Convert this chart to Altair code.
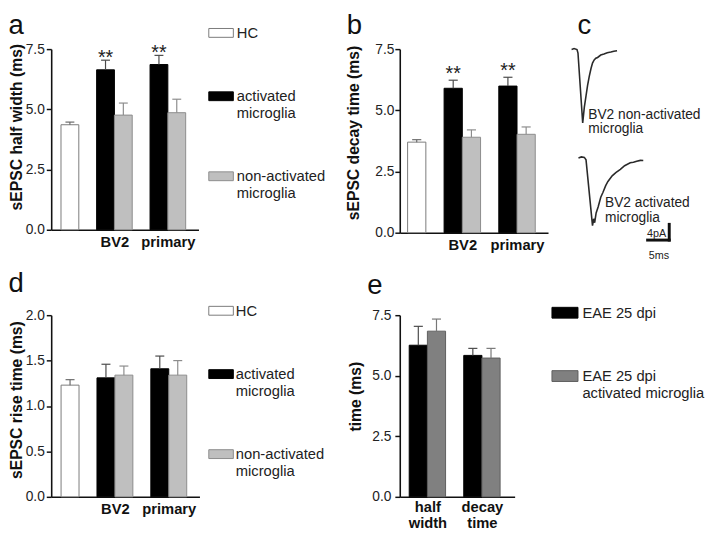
import textwrap
import altair as alt
import pandas as pd

FONT = "Liberation Sans"
INK = "#111111"
TEXT = "#222222"

# ---------------- data ----------------
conditions = ["HC", "activated microglia", "non-activated microglia"]
groups = ["BV2", "primary"]

# a) sEPSC half width (ms)
a_hc = [4.36]
a_hc_err = [0.11]
a_act = [6.64, 6.86]
a_act_err = [0.40, 0.38]
a_non = [4.76, 4.86]
a_non_err = [0.50, 0.56]
a_sig = ["**", "**"]

# b) sEPSC decay time (ms)
b_hc = [3.70]
b_hc_err = [0.10]
b_act = [5.90, 5.99]
b_act_err = [0.33, 0.36]
b_non = [3.90, 4.02]
b_non_err = [0.30, 0.30]
b_sig = ["**", "**"]

# d) sEPSC rise time (ms)
d_hc = [1.23]
d_hc_err = [0.06]
d_act = [1.31, 1.41]
d_act_err = [0.15, 0.14]
d_non = [1.34, 1.34]
d_non_err = [0.10, 0.16]
d_sig = ["", ""]

# e) time (ms)
e_conditions = ["EAE 25 dpi", "EAE 25 dpi activated microglia"]
e_measures = ["half width", "decay time"]
e_eae = [6.26, 5.84]
e_eae_err = [0.78, 0.29]
e_act = [6.84, 5.73]
e_act_err = [0.50, 0.40]

# c) example sEPSC traces, time (ms) and current (pA)
trace_names = ["BV2 non-activated microglia", "BV2 activated microglia"]
non_t = [0.0, 0.57, 1.25, 1.48, 2.57, 2.95, 3.34, 3.70, 4.09, 4.48, 4.84, 5.23,
         5.61, 6.02, 6.75, 7.50, 8.25, 9.09, 9.77, 10.52]
non_i = [0.0, 0.2, -0.05, -0.93, -18.7, -14.7, -11.85, -9.18, -6.85, -4.93, -3.5,
         -2.68, -2.25, -2.05, -1.43, -1.18, -0.85, -0.68, -0.48, -0.35]
act_t = [0.0, 0.68, 1.36, 1.75, 3.25, 3.52, 3.75, 4.09, 4.55, 5.16, 5.68, 6.30,
         6.82, 7.80, 8.64, 9.70, 10.68, 11.98, 12.73, 13.48, 14.32, 15.0]
act_i = [0.0, 0.25, 0.13, -0.5, -17.25, -15.5, -16.5, -14.0, -12.5, -10.0, -8.75,
         -7.08, -6.0, -4.58, -3.75, -2.93, -2.0, -1.25, -1.13, -0.83, -0.63, -0.68]
scalebar_ms = 5
scalebar_pa = 4

# ---------------- styles ----------------
ad_fill = ["#ffffff", "#000000", "#bfbfbf"]
ad_stroke = ["#7a7a7a", "#000000", "#8c8c8c"]
ad_err = ["#6a6a6a", "#4a4a4a", "#8c8c8c"]
e_fill = ["#000000", "#808080"]
e_stroke = ["#000000", "#5e5e5e"]
e_err = ["#4a4a4a", "#777777"]
CAP = 0.25
LEG_LH = 17
LEG_GAP = 47.5


def finish(df):
    df["lo"] = df["slot"] - 0.5
    df["hi"] = df["slot"] + 0.5
    df["top"] = df["v"] + df["err"]
    df["cl"] = df["slot"] - CAP
    df["cr"] = df["slot"] + CAP
    return df


def grouped_df(hc, hc_err, act, act_err, non, non_err, sig):
    rows = [{"cond": conditions[0], "slot": 0.0, "v": hc[0], "err": hc_err[0],
             "sig": "", "fill": ad_fill[0], "stroke": ad_stroke[0], "ecol": ad_err[0]}]
    for gi in range(len(groups)):
        base = 2 + 3 * gi
        rows.append({"cond": conditions[1], "slot": base, "v": act[gi],
                     "err": act_err[gi], "sig": sig[gi],
                     "fill": ad_fill[1], "stroke": ad_stroke[1], "ecol": ad_err[1]})
        rows.append({"cond": conditions[2], "slot": base + 1, "v": non[gi],
                     "err": non_err[gi], "sig": "",
                     "fill": ad_fill[2], "stroke": ad_stroke[2], "ecol": ad_err[2]})
    return finish(pd.DataFrame(rows))


def e_df():
    rows = []
    for mi in range(len(e_measures)):
        base = 3 * mi
        rows.append({"cond": e_conditions[0], "slot": base, "v": e_eae[mi],
                     "err": e_eae_err[mi], "sig": "",
                     "fill": e_fill[0], "stroke": e_stroke[0], "ecol": e_err[0]})
        rows.append({"cond": e_conditions[1], "slot": base + 1, "v": e_act[mi],
                     "err": e_act_err[mi], "sig": "",
                     "fill": e_fill[1], "stroke": e_stroke[1], "ecol": e_err[1]})
    return finish(pd.DataFrame(rows))


def label_expr(positions, names, multiline):
    expr = "''"
    for p, n in reversed(list(zip(positions, names))):
        if multiline:
            lab = "[" + ",".join("'%s'" % w for w in n.split(" ")) + "]"
        else:
            lab = "'%s'" % n
        expr = "abs(datum.value - %s) < 0.01 ? %s : %s" % (p, lab, expr)
    return expr


def letter_layer(letter, x, y):
    return alt.Chart(alt.Data(values=[{"letter": letter}])).mark_text(
        font=FONT, fontSize=28, align="left", baseline="alphabetic", color=INK
    ).encode(text="letter:N", x=alt.value(x), y=alt.value(y))


def bar_panel(df, xdom, ydom, yvals, ytitle, w, h,
              lab_pos, lab_names, multiline, title_x, title_y, label_pad,
              letter, lx, ly, star_dy):
    xs = alt.Scale(domain=xdom, nice=False, zero=False)
    ys = alt.Scale(domain=ydom, nice=False, zero=True)
    xax = alt.Axis(values=lab_pos, labelExpr=label_expr(lab_pos, lab_names, multiline),
                   title=None, ticks=False, labelPadding=3 if multiline else 5,
                   labelLineHeight=16)
    yax = alt.Axis(values=yvals, format=".1f", title=ytitle, titleX=title_x,
                   titleY=title_y, titleBaseline="bottom", labelPadding=label_pad)
    base = alt.Chart(df)
    bars = base.mark_rect(strokeWidth=1).encode(
        x=alt.X("lo:Q", scale=xs, axis=xax),
        x2="hi:Q",
        y=alt.Y("v:Q", scale=ys, axis=yax),
        y2=alt.datum(0),
        fill=alt.Fill("fill:N", scale=None),
        stroke=alt.Stroke("stroke:N", scale=None),
    )
    whisk = base.mark_rule(strokeWidth=1.2).encode(
        x=alt.X("slot:Q", scale=xs, axis=xax),
        y=alt.Y("v:Q", scale=ys, axis=yax),
        y2="top:Q",
        color=alt.Color("ecol:N", scale=None),
    )
    caps = base.mark_rule(strokeWidth=1.2).encode(
        x=alt.X("cl:Q", scale=xs, axis=xax),
        x2="cr:Q",
        y=alt.Y("top:Q", scale=ys, axis=yax),
        color=alt.Color("ecol:N", scale=None),
    )
    stars = base.transform_filter("datum.sig != ''").mark_text(
        font=FONT, fontSize=20, color=TEXT, baseline="alphabetic", dy=star_dy
    ).encode(
        x=alt.X("slot:Q", scale=xs, axis=xax),
        y=alt.Y("top:Q", scale=ys, axis=yax),
        text="sig:N",
    )
    return alt.layer(bars, whisk, caps, stars, letter_layer(letter, lx, ly)).properties(
        width=w, height=h)


def legend_panel(labels, fills, strokes, w, h, y0, sw_x, sw_w, sw_h, text_x, wrap):
    rows = []
    yc = y0
    for lab, f, s in zip(labels, fills, strokes):
        txt = textwrap.fill(lab, width=wrap, break_on_hyphens=False)
        rows.append({"label": lab, "text": txt, "fill": f, "stroke": s, "yc": yc})
        yc += (txt.count("\n") + 1) * LEG_LH + LEG_GAP
    df = pd.DataFrame(rows)
    df["ylo"] = df["yc"] - sw_h / 2
    df["yhi"] = df["yc"] + sw_h / 2
    df["ty"] = df["yc"] - 7
    ys = alt.Scale(domain=[0, h], range=[0, h], nice=False, zero=False)
    sw = alt.Chart(df).mark_rect(strokeWidth=1).encode(
        x=alt.value(sw_x), x2=alt.value(sw_x + sw_w),
        y=alt.Y("ylo:Q", scale=ys, axis=None), y2="yhi:Q",
        fill=alt.Fill("fill:N", scale=None),
        stroke=alt.Stroke("stroke:N", scale=None),
    )
    tx = alt.Chart(df).mark_text(
        font=FONT, fontSize=15, color=TEXT, align="left", baseline="top",
        lineBreak="\n", lineHeight=LEG_LH,
    ).encode(x=alt.value(text_x), y=alt.Y("ty:Q", scale=ys, axis=None), text="text:N")
    return alt.layer(sw, tx).properties(width=w, height=h)


def trace_panel():
    C_W, C_H = 130, 184
    PX_MS, PX_PA = 4.4, 4.0
    X0, Y0 = 17.0, 0.3
    xs = alt.Scale(domain=[-X0 / PX_MS, (C_W - X0) / PX_MS], nice=False, zero=False)
    ys = alt.Scale(domain=[(Y0 - C_H) / PX_PA, Y0 / PX_PA], nice=False, zero=False)
    shifts = [(0.0, 0.0), (7.0 / PX_MS, -110.5 / PX_PA)]
    rows = []
    for name, ts, cs, (dt, di) in zip(trace_names, [non_t, act_t], [non_i, act_i], shifts):
        for k, (t, c) in enumerate(zip(ts, cs)):
            rows.append({"trace": name, "k": k, "t": t + dt, "i": c + di})
    tdf = pd.DataFrame(rows)
    lines = alt.Chart(tdf).mark_line(color="#2a2a2a", strokeWidth=1.6).encode(
        x=alt.X("t:Q", scale=xs, axis=None),
        y=alt.Y("i:Q", scale=ys, axis=None),
        detail="trace:N", order="k:Q",
    )
    lab_pos = [(3.86, -14.9), (7.73, -37.4)]
    ldf = pd.DataFrame({
        "text": [textwrap.fill(n, width=17) for n in trace_names],
        "t": [p[0] for p in lab_pos], "i": [p[1] for p in lab_pos]})
    labels = alt.Chart(ldf).mark_text(
        font=FONT, fontSize=14, color=TEXT, align="left", baseline="top",
        lineBreak="\n", lineHeight=15,
    ).encode(x=alt.X("t:Q", scale=xs, axis=None), y=alt.Y("i:Q", scale=ys, axis=None),
             text="text:N")
    sb_t, sb_i = 22.6, -48.55
    sdf = pd.DataFrame({
        "t": [sb_t - scalebar_ms, sb_t], "t2": [sb_t, sb_t],
        "i": [sb_i, sb_i], "i2": [sb_i, sb_i + scalebar_pa]})
    bar = alt.Chart(sdf).mark_rule(color=INK, strokeWidth=3, strokeCap="square").encode(
        x=alt.X("t:Q", scale=xs, axis=None), x2="t2:Q",
        y=alt.Y("i:Q", scale=ys, axis=None), y2="i2:Q")
    stdf = pd.DataFrame({
        "text": ["%dpA" % scalebar_pa, "%dms" % scalebar_ms],
        "t": [sb_t - 2.95, sb_t - 2.38], "i": [sb_i + 1.62, sb_i - 4.13]})
    sbt = alt.Chart(stdf).mark_text(font=FONT, fontSize=11, color=TEXT,
                                   align="center", baseline="middle").encode(
        x=alt.X("t:Q", scale=xs, axis=None), y=alt.Y("i:Q", scale=ys, axis=None),
        text="text:N")
    return alt.layer(lines, labels, bar, sbt, letter_layer("c", 23, -15)).properties(
        width=C_W, height=C_H)


panel_a = bar_panel(grouped_df(a_hc, a_hc_err, a_act, a_act_err, a_non, a_non_err, a_sig),
                    [-1.05, 7.22], [0, 7.5], [0, 2.5, 5, 7.5], "sEPSC half width (ms)",
                    150, 184, [2.5, 5.5], groups, False, -27, 79, 2, "a", -43.5, -15, 4)
panel_b = bar_panel(grouped_df(b_hc, b_hc_err, b_act, b_act_err, b_non, b_non_err, b_sig),
                    [-0.93, 7.20], [0, 7.5], [0, 2.5, 5, 7.5], "sEPSC decay time (ms)",
                    151, 187, [2.5, 5.5], groups, False, -39, 85, 1, "b", -54, -15, 0)
panel_d = bar_panel(grouped_df(d_hc, d_hc_err, d_act, d_act_err, d_non, d_non_err, d_sig),
                    [-1.05, 7.21], [0, 2.0], [0, 0.5, 1.0, 1.5, 2.0], "sEPSC rise time (ms)",
                    151, 185, [2.5, 5.5], groups, False, -27, 86, 2, "d", -43.5, -24, 0)
panel_e = bar_panel(e_df(), [-1.02, 5.30], [0, 7.5], [0, 2.5, 5, 7.5], "time (ms)",
                    117, 185, [0.5, 3.5], e_measures, True, -37, 82.5, 4, "e", -33, -22, 0)

legend_1 = legend_panel(conditions, ad_fill, ad_stroke, 186.5, 184, -16.5, 2.5, 25, 9, 31, 14)
legend_2 = legend_panel(conditions, ad_fill, ad_stroke, 189.5, 185, -4.5, 2.5, 25, 9, 30, 14)
legend_e = legend_panel(e_conditions, e_fill, e_stroke, 160, 185, -2.5, -3, 26.5, 11, 28, 19)
panel_c = trace_panel()

chart = alt.concat(
    panel_a, legend_1, panel_b, panel_c,
    panel_d, legend_2, panel_e, legend_e,
    columns=4,
    spacing={"row": 84, "column": 7},
    align={"row": "each", "column": "none"},
    bounds="flush",
).properties(padding=0, background="white").configure_view(stroke=None).configure_axis(
    labelFont=FONT, labelFontSize=14, labelColor=TEXT, labelFlush=False,
    labelOverlap=False, titleFont=FONT, titleFontSize=16, titleFontWeight="bold",
    titleColor=INK, domainColor=INK, domainWidth=1.6, tickColor=INK, tickWidth=1.5,
    tickSize=5, grid=False,
).configure_axisX(labelFontWeight="bold", labelFontSize=15, labelColor=INK)

chart.save("out.html", embed_options={"renderer": "svg", "actions": False})
